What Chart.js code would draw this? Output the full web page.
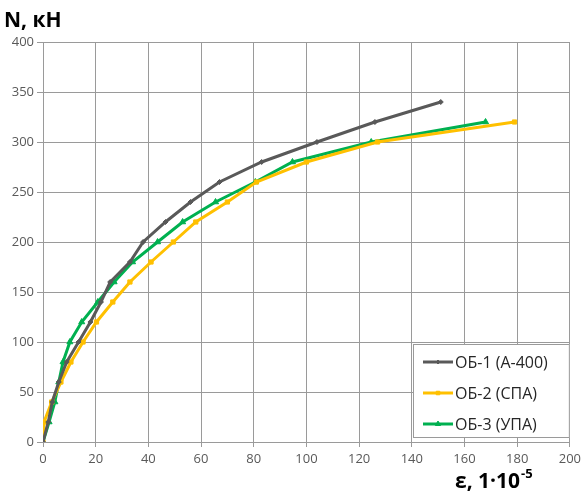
<!DOCTYPE html>
<html>
<head>
<meta charset="utf-8">
<script src="https://cdn.jsdelivr.net/npm/chart.js@4"></script>
<style>
  html, body { margin: 0; padding: 0; background: #fff; }
  #wrap { width: 585px; height: 493px; position: relative; }
</style>
</head>
<body>
<div id="wrap"><canvas id="grafico" width="585" height="493"></canvas></div>
<script>
// значения (N, кН и деформации ε·10^-5)
const nagruzkaOB1 = [0, 20, 40, 60, 80, 100, 120, 140, 160, 180, 200, 220, 240, 260, 280, 300, 320, 340];
const deformOB1 = [0, 2, 3.5, 6, 9, 13.5, 18, 22, 25.5, 33, 38, 46.5, 56, 67, 83, 104, 126, 151];

const nagruzkaOB2 = [0, 20, 40, 60, 80, 100, 120, 140, 160, 180, 200, 220, 240, 260, 280, 300, 320];
const deformOB2 = [0, 0.4, 3.3, 6.8, 10.6, 15.2, 20.3, 26.5, 33, 41, 49.5, 58, 70, 81, 100, 127, 179];

const nagruzkaOB3 = [0, 20, 40, 60, 80, 100, 120, 140, 160, 180, 200, 220, 240, 260, 280, 300, 320];
const deformOB3 = [0, 2.3, 4.5, 6, 7.6, 10.2, 14.7, 20.8, 27, 34, 43.5, 53, 65.5, 80.6, 94.7, 124.6, 168];

const nomes = ['ОБ-1 (А-400)', 'ОБ-2 (СПА)', 'ОБ-3 (УПА)'];
const xTicks = [0, 20, 40, 60, 80, 100, 120, 140, 160, 180, 200];
const yTicks = [0, 50, 100, 150, 200, 250, 300, 350, 400];

function pares(xs, ys) {
  let out = [];
  for (let i = 0; i < xs.length; i++) {
    out.push({ x: xs[i], y: ys[i] });
  }
  return out;
}

const corGrade = '#9a9a9a';
const corTexto = '#595959';

// legenda dentro da area do grafico, canto inferior direito
const legendaPlugin = {
  id: 'legendaInterna',
  afterDraw(chart) {
    const c = chart.ctx;
    const area = chart.chartArea;
    const x0 = 413, y0 = 344, x1 = area.right, y1 = 438;
    c.save();
    c.fillStyle = '#fff';
    c.fillRect(x0, y0, x1 - x0, y1 - y0);
    c.strokeStyle = corGrade;
    c.lineWidth = 1;
    c.strokeRect(x0 + 0.5, y0 + 0.5, x1 - x0 - 1, y1 - y0 - 1);
    c.textBaseline = 'middle';
    chart.data.datasets.forEach((ds, i) => {
      const yy = 362 + i * 31;
      c.strokeStyle = ds.borderColor;
      c.lineWidth = ds.borderWidth;
      c.beginPath();
      c.moveTo(423, yy);
      c.lineTo(453, yy);
      c.stroke();
      c.fillStyle = ds.backgroundColor;
      c.lineWidth = 1;
      Chart.helpers.drawPoint(c, {
        pointStyle: ds.pointStyle,
        radius: ds.pointRadius - 0.5,
        borderWidth: 1,
        rotation: 0
      }, 438, yy);
      c.fillStyle = '#262626';
      c.font = '16px "Open Sans", "Liberation Sans", sans-serif';
      c.fillText(nomes[i], 455, yy + 1);
    });
    c.restore();
  }
};

// titulos dos eixos
const titulosPlugin = {
  id: 'titulos',
  afterDraw(chart) {
    const c = chart.ctx;
    c.save();
    c.fillStyle = '#000';
    c.textBaseline = 'alphabetic';
    c.font = 'bold 21px "Open Sans", "Liberation Sans", sans-serif';
    c.fillText('N, кН', 4, 27);
    const base = 'ε, 1·10';
    const w = c.measureText(base).width;
    const xs = 455;
    c.fillText(base, xs, 488);
    c.font = 'bold 13px "Open Sans", "Liberation Sans", sans-serif';
    c.fillText('-5', xs + w + 1, 478);
    c.restore();
  }
};

const ctx = document.getElementById('grafico');

new Chart(ctx, {
  type: 'line',
  data: {
    datasets: [{
      label: nomes[0],
      data: pares(deformOB1, nagruzkaOB1),
      borderColor: '#595959',
      backgroundColor: '#595959',
      borderWidth: 3,
      pointStyle: 'rectRot',
      pointRadius: 2.5,
      pointBorderWidth: 1,
      tension: 0,
      fill: false
    },
    {
      label: nomes[1],
      data: pares(deformOB2, nagruzkaOB2),
      borderColor: '#ffc000',
      backgroundColor: '#ffc000',
      borderWidth: 3,
      pointStyle: 'rect',
      pointRadius: 3,
      pointBorderWidth: 1,
      tension: 0,
      fill: false
    },
    {
      label: nomes[2],
      data: pares(deformOB3, nagruzkaOB3),
      borderColor: '#00b050',
      backgroundColor: '#00b050',
      borderWidth: 3,
      pointStyle: 'triangle',
      pointRadius: 3.5,
      pointBorderWidth: 1,
      tension: 0,
      fill: false
    }]
  },
  options: {
    responsive: false,
    animation: false,
    layout: {
      padding: { top: 42, right: 14, bottom: 0, left: 0 }
    },
    scales: {
      x: {
        type: 'linear',
        min: 0,
        max: 200,
        afterBuildTicks: (s) => { s.ticks = xTicks.map(v => ({ value: v })); },
        afterFit: (s) => { s.height = 51; },
        grid: { color: corGrade, tickLength: 5, lineWidth: 1 },
        border: { color: corGrade },
        ticks: {
          color: corTexto,
          padding: 4,
          font: { family: '"Open Sans", "Liberation Sans", sans-serif', size: 13 }
        }
      },
      y: {
        min: 0,
        max: 400,
        afterBuildTicks: (s) => { s.ticks = yTicks.map(v => ({ value: v })); },
        afterFit: (s) => { s.width = 43; },
        grid: { color: corGrade, tickLength: 6, lineWidth: 1 },
        border: { color: corGrade },
        ticks: {
          color: corTexto,
          padding: 3,
          font: { family: '"Open Sans", "Liberation Sans", sans-serif', size: 13 }
        }
      }
    },
    plugins: {
      legend: { display: false },
      tooltip: { enabled: false }
    }
  },
  plugins: [legendaPlugin, titulosPlugin]
});
</script>
</body>
</html>
